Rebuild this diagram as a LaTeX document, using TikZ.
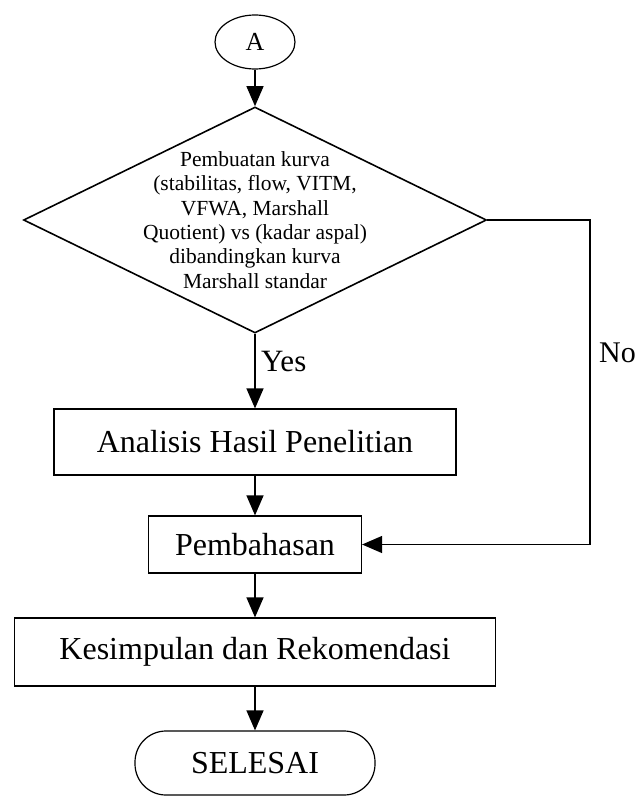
\documentclass[tikz,border=0pt]{standalone}
\usepackage{fontspec}
\setmainfont{Liberation Serif}
\usetikzlibrary{shapes.geometric,arrows.meta}
\begin{document}
\begin{tikzpicture}[x=1pt,y=-1pt,
  box/.style={draw, line width=1.2pt, rectangle, inner sep=0pt, font=\fontsize{32}{38}\selectfont},
  arr/.style={line width=1.2pt, -{Triangle[length=20pt,width=17pt]}},
  lbl/.style={anchor=base west, inner sep=0pt}
]
\useasboundingbox (0,0) rectangle (638,797);
\node[draw, ellipse, line width=1.2pt, minimum width=80pt, minimum height=54pt, inner sep=0pt, font=\fontsize{26}{30}\selectfont] (a) at (255,42) {A};
\node[draw, diamond, line width=1.6pt, minimum width=463pt, minimum height=226pt, inner sep=0pt] (d) at (255,220) {};
\node[align=center, font=\fontsize{21.5}{24.4}\selectfont, inner sep=0pt] (dt) at (d.center) {Pembuatan kurva\\(stabilitas, flow, VITM,\\VFWA, Marshall\\Quotient) vs (kadar aspal)\\dibandingkan kurva\\Marshall standar};
\node[box, minimum width=402pt, minimum height=66pt] (an) at (255,442) {Analisis Hasil Penelitian};
\node[box, minimum width=213pt, minimum height=57pt] (pb) at (255,544.5) {Pembahasan};
\node[box, minimum width=481pt, minimum height=68pt] (ks) at (255,652) {Kesimpulan dan Rekomendasi};
\node[box, rounded corners=31pt, minimum width=240pt, minimum height=64pt] (sl) at (255,763) {SELESAI};
\node[lbl, font=\fontsize{31}{36}\selectfont] (yes) at (261,371) {Yes};
\node[lbl, font=\fontsize{30}{36}\selectfont] (no) at (599,362) {No};
\coordinate (nc) at (590,220);
\draw[arr] (a) -- (d.north);
\draw[arr] (d.south) -- (an);
\draw[arr] (an) -- (pb);
\draw[arr] (pb) -- (ks);
\draw[arr] (ks) -- (sl);
\draw[arr] (d.east) -- (nc) |- (pb.east);
\end{tikzpicture}
\end{document}
